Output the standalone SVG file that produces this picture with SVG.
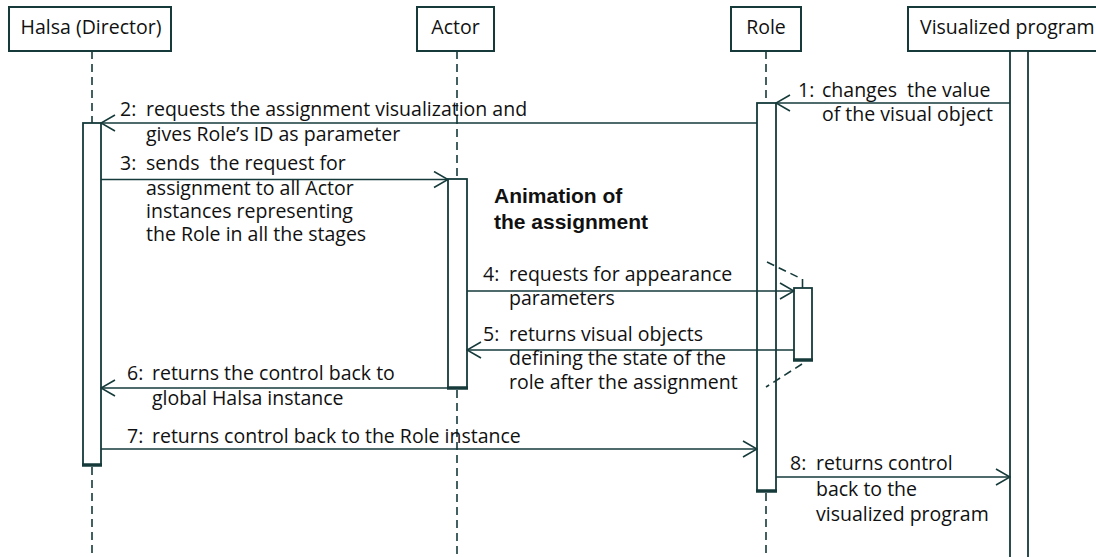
<svg xmlns="http://www.w3.org/2000/svg" width="1096" height="557" viewBox="0 0 1096 557">
<style>
.box{fill:#fff;stroke:#163a3a;stroke-width:2}
.act{fill:#fff;stroke:#163a3a;stroke-width:1.8}
.end{stroke:#163a3a;stroke-width:3.5}
.life{stroke:#163a3a;stroke-width:1.6;stroke-dasharray:8 5;fill:none}
.msg{stroke:#163a3a;stroke-width:1.6;fill:none;marker-end:url(#arr)}
.t{font-family:"Open Sans","Liberation Sans",sans-serif;font-size:19.5px;fill:#111}
.b{font-family:"Liberation Sans",Arial,sans-serif;font-size:21px;font-weight:bold;fill:#111}
.m{text-anchor:middle}
</style>
<defs>
<marker id="arr" markerWidth="16" markerHeight="18" refX="15" refY="9" orient="auto" markerUnits="userSpaceOnUse" viewBox="0 0 16 18">
<path d="M1,1 L15,9 L1,17" fill="none" stroke="#163a3a" stroke-width="1.6"/>
</marker>
</defs>
<rect width="1096" height="557" fill="#fff"/>

<g id="halsa">
<line class="life" x1="92" y1="51" x2="92" y2="123"/>
<line class="life" x1="92" y1="467" x2="92" y2="557"/>
<rect class="box" x="9" y="7" width="162" height="44"/>
<text class="t m" x="91" y="34">Halsa (Director)</text>
<rect class="act" x="83" y="123" width="18" height="342"/>
<line class="end" x1="82" y1="465" x2="102" y2="465"/>
</g>

<g id="actor">
<line class="life" x1="457" y1="51" x2="457" y2="179"/>
<line class="life" x1="457" y1="390" x2="457" y2="557"/>
<rect class="box" x="417" y="7" width="77" height="44"/>
<text class="t m" x="455.5" y="34">Actor</text>
<rect class="act" x="448" y="179" width="19" height="209"/>
<line class="end" x1="447" y1="388" x2="468" y2="388"/>
</g>

<g id="role">
<line class="life" x1="766" y1="51" x2="766" y2="103"/>
<line class="life" x1="766" y1="493" x2="766" y2="557"/>
<rect class="box" x="731" y="7" width="70" height="44"/>
<text class="t m" x="766" y="34">Role</text>
<rect class="act" x="757" y="103" width="19" height="388"/>
<line class="end" x1="756" y1="491" x2="777" y2="491"/>
</g>

<g id="role-self">
<path class="life" d="M767,262 L802,279"/>
<line stroke="#163a3a" stroke-width="1.6" x1="802.5" y1="279" x2="802.5" y2="288"/>
<path class="life" d="M802,364 L766,387"/>
<rect class="act" x="794" y="288" width="18" height="72"/>
<line class="end" x1="793" y1="360" x2="813" y2="360"/>
</g>

<g id="visualized-program">
<rect class="box" x="908" y="7" width="200" height="44"/>
<text class="t" x="920" y="34">Visualized program</text>
<rect class="act" x="1010" y="51" width="18" height="520"/>
</g>

<g id="connectors">
<path class="msg" d="M1010,103 H776"/>
<text class="t" x="798" y="97">1:</text>
<text class="t" x="822" y="97" xml:space="preserve">changes  the value</text>
<text class="t" x="822" y="121">of the visual object</text>

<path class="msg" d="M757,123 H101"/>
<text class="t" x="120" y="116">2:</text>
<text class="t" x="146" y="116">requests the assignment visualization and</text>
<text class="t" x="146" y="141">gives Role’s ID as parameter</text>

<path class="msg" d="M101,179.5 H448"/>
<text class="t" x="120" y="170">3:</text>
<text class="t" x="146" y="170" xml:space="preserve">sends  the request for</text>
<text class="t" x="146" y="195">assignment to all Actor</text>
<text class="t" x="146" y="218">instances representing</text>
<text class="t" x="146" y="241">the Role in all the stages</text>

<text class="b" x="494" y="203">Animation of</text>
<text class="b" x="494" y="229">the assignment</text>

<path class="msg" d="M467,291 H794"/>
<text class="t" x="483" y="281">4:</text>
<text class="t" x="509" y="281">requests for appearance</text>
<text class="t" x="509" y="305">parameters</text>

<path class="msg" d="M794,350 H467"/>
<text class="t" x="483" y="341">5:</text>
<text class="t" x="509" y="341">returns visual objects</text>
<text class="t" x="509" y="365">defining the state of the</text>
<text class="t" x="509" y="389">role after the assignment</text>

<path class="msg" d="M448,388 H101"/>
<text class="t" x="127" y="380">6:</text>
<text class="t" x="152" y="380">returns the control back to</text>
<text class="t" x="152" y="405">global Halsa instance</text>

<path class="msg" d="M101,449 H757"/>
<text class="t" x="127" y="443">7:</text>
<text class="t" x="152" y="443">returns control back to the Role instance</text>

<path class="msg" d="M776,477 H1010"/>
<text class="t" x="790" y="470">8:</text>
<text class="t" x="816" y="470">returns control</text>
<text class="t" x="816" y="496">back to the</text>
<text class="t" x="816" y="521">visualized program</text>
</g>
</svg>
